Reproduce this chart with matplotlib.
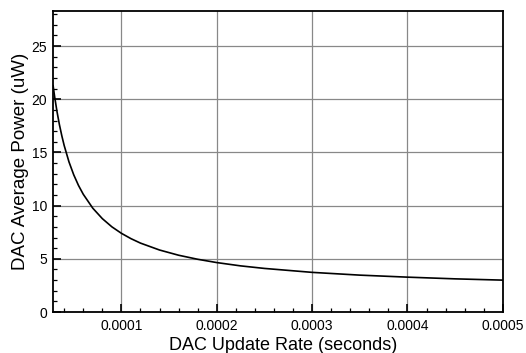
import matplotlib
matplotlib.use('Agg')
import matplotlib.pyplot as plt
from matplotlib.ticker import MultipleLocator, FixedLocator

plt.rcParams['font.family'] = ['Liberation Sans', 'DejaVu Sans']

# 读图得到的数据点 (x: 秒, y: uW)
update_rate = [2.84e-5, 3.0e-5, 3.25e-5, 3.5e-5, 3.75e-5, 4.0e-5, 4.5e-5, 5.0e-5, 5.5e-5, 6.0e-5,
               7.0e-5, 8.0e-5, 9.0e-5, 1.0e-4, 1.1e-4, 1.2e-4, 1.4e-4, 1.6e-4, 1.8e-4, 2.0e-4,
               2.25e-4, 2.5e-4, 3.0e-4, 3.5e-4, 4.0e-4, 4.5e-4, 5.0e-4]
avg_power = [21.27, 20.23, 18.82, 17.61, 16.57, 15.65, 14.12, 12.90, 11.90, 11.07,
             9.76, 8.78, 8.01, 7.40, 6.90, 6.48, 5.83, 5.34, 4.96, 4.65,
             4.34, 4.10, 3.73, 3.47, 3.28, 3.12, 3.00]
x_ticks = [0.0001, 0.0002, 0.0003, 0.0004, 0.0005]
x_tick_labels = ['0.0001', '0.0002', '0.0003', '0.0004', '0.0005']
y_ticks = [0, 5, 10, 15, 20, 25]

fig = plt.figure(figsize=(5.26, 3.53), dpi=100)
ax = fig.add_axes([0.101, 0.116, 0.855, 0.853])

ax.plot(update_rate, avg_power, color='black', linewidth=1.2, zorder=3)

ax.set_xlim(2.84e-5, 5.0e-4)
ax.set_ylim(0, 28.3)
ax.xaxis.set_major_locator(FixedLocator(x_ticks))
ax.set_xticklabels(x_tick_labels)
ax.xaxis.set_minor_locator(MultipleLocator(2e-5))
ax.yaxis.set_major_locator(FixedLocator(y_ticks))
ax.yaxis.set_minor_locator(MultipleLocator(1))

ax.grid(True, which='major', color='#888888', linewidth=0.9)
ax.tick_params(which='both', direction='in', top=False, right=False, labelsize=10)
ax.tick_params(axis='x', pad=5)
ax.tick_params(axis='y', pad=4.5)
ax.tick_params(which='major', length=6, width=1.2)
ax.tick_params(which='minor', length=3, width=0.9)
for s in ax.spines.values():
    s.set_linewidth(1.3)

ax.set_xlabel('DAC Update Rate (seconds)', fontsize=13, va='baseline')
ax.set_ylabel('DAC Average Power (uW)', fontsize=13.5)
ax.xaxis.set_label_coords(0.511, -0.127)
ax.yaxis.set_label_coords(-0.053, 0.5)

fig.savefig('out.png', dpi=100)
